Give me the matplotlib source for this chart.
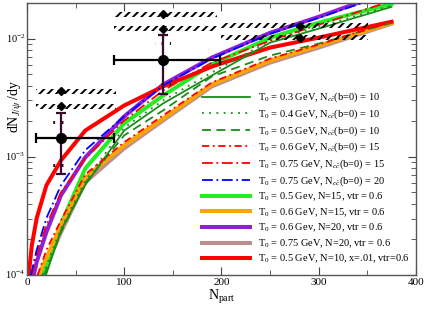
import numpy as np
import matplotlib
matplotlib.use("Agg")
import matplotlib.pyplot as plt
from matplotlib.patches import Rectangle
from matplotlib.ticker import MultipleLocator, LogLocator, NullFormatter

plt.rcParams['font.family'] = 'Liberation Serif'
plt.rcParams['mathtext.fontset'] = 'custom'
plt.rcParams['mathtext.rm'] = 'Liberation Serif'
plt.rcParams['mathtext.it'] = 'Liberation Serif:italic'
plt.rcParams['hatch.linewidth'] = 1.4

### Model curves (N_part, dN/dy)
x_t03 = [19.5, 35, 60, 100, 140, 190, 250, 300, 375]
y_t03 = [1e-4, 2.40e-4, 5.8e-4, 1.67e-3, 2.83e-3, 4.87e-3, 9.25e-3, 1.215e-2, 1.86e-2]

x_t04 = [16, 20, 35, 60, 100, 140, 190, 250, 300, 375]
y_t04 = [1e-4, 1.2e-4, 2.49e-4, 6.3e-4, 1.77e-3, 3.0e-3, 5.16e-3, 9.62e-3, 1.26e-2, 1.90e-2]

x_t05 = [17, 20, 35, 60, 100, 140, 190, 250, 300, 375]
y_t05 = [1e-4, 1.1e-4, 2.3e-4, 6.0e-4, 1.52e-3, 2.47e-3, 4.78e-3, 7.19e-3, 9.08e-3, 1.365e-2]

x_t06_15 = [11, 20, 35, 60, 100, 140, 190, 250, 300, 375]
y_t06_15 = [1e-4, 1.63e-4, 2.91e-4, 7.1e-4, 1.33e-3, 2.24e-3, 4.25e-3, 6.78e-3, 8.90e-3, 1.39e-2]

x_t075_15 = [5, 10, 20, 35, 60, 100, 140, 190, 250, 300, 375]
y_t075_15 = [1e-4, 1.48e-4, 2.64e-4, 5.01e-4, 9.7e-4, 2.03e-3, 3.64e-3, 6.27e-3, 9.62e-3, 1.31e-2, 2.09e-2]

x_t075_20 = [4, 10, 20, 35, 60, 100, 140, 190, 250, 300, 375]
y_t075_20 = [1e-4, 1.63e-4, 3.03e-4, 5.75e-4, 1.14e-3, 2.2e-3, 4.01e-3, 6.78e-3, 1.10e-2, 1.50e-2, 2.44e-2]

x_v05_15 = [17, 20, 35, 60, 100, 140, 190, 250, 300, 375]
y_v05_15 = [1e-4, 1.2e-4, 2.7e-4, 8.0e-4, 1.92e-3, 3.30e-3, 6.04e-3, 1.02e-2, 1.365e-2, 1.97e-2]

x_v06_15 = [12, 20, 35, 60, 100, 140, 190, 250, 300, 375]
y_v06_15 = [1e-4, 1.39e-4, 2.64e-4, 6.7e-4, 1.25e-3, 2.11e-3, 4.09e-3, 6.52e-3, 8.73e-3, 1.365e-2]

x_v06_20 = [7, 10, 20, 35, 60, 100, 140, 190, 250, 300, 375]
y_v06_20 = [1e-4, 1.29e-4, 2.31e-4, 4.73e-4, 9.9e-4, 2.2e-3, 4.09e-3, 6.91e-3, 1.12e-2, 1.53e-2, 2.54e-2]

x_v075_20 = [14, 20, 35, 60, 100, 140, 190, 250, 300, 375]
y_v075_20 = [1e-4, 1.2e-4, 2.31e-4, 6.1e-4, 1.18e-3, 2.03e-3, 3.94e-3, 6.27e-3, 8.40e-3, 1.34e-2]

x_v05_10 = [1.5, 5, 10, 20, 35, 60, 100, 140, 190, 250, 300, 375]
y_v05_10 = [9.5e-5, 1.79e-4, 3.03e-4, 5.75e-4, 9.34e-4, 1.67e-3, 2.72e-3, 3.94e-3, 5.80e-3, 8.40e-3, 1.02e-2, 1.39e-2]

### Data points
pt_x = [35, 140]
pt_y = [1.43e-3, 6.65e-3]
pt_xlo = [9.3, 89.5]
pt_xhi = [89.5, 198.5]
pt_ylo = [7.1e-4, 3.37e-3]
pt_yhi = [2.33e-3, 1.08e-2]
sys_lo = [8.5e-4, 4.09e-3]
sys_hi = [1.95e-3, 9.07e-3]

dia_x = [35, 35, 140, 140, 281, 281]
dia_y = [3.59e-3, 2.67e-3, 1.61e-2, 1.21e-2, 1.29e-2, 1.02e-2]
dia_xlo = [9.3, 9.3, 89.5, 89.5, 199.5, 199.5]
dia_xhi = [91.5, 91.5, 195, 195, 350.6, 350.6]

# y tick labels (decades)
ytick_vals = [1e-4, 1e-3, 1e-2]
ytick_text = [r'$10^{-4}$', r'$10^{-3}$', r'$10^{-2}$']

fig = plt.figure(figsize=(4.25, 3.09), dpi=100)
ax = fig.add_axes([0.0635, 0.110, 0.915, 0.880])

thin = 1.3
thick = 2.9
ax.plot(x_v05_15, y_v05_15, color='#22ee22', lw=thick, zorder=2,
        label=r'T$_0$ = 0.5 Gev, N=15, vtr = 0.6')
ax.plot(x_v06_15, y_v06_15, color='#ffa500', lw=thick, zorder=2,
        label=r'T$_0$ = 0.6 GeV, N=15, vtr = 0.6')
ax.plot(x_v06_20, y_v06_20, color='#9020d8', lw=thick, zorder=2,
        label=r'T$_0$ = 0.6 Gev, N=20, vtr = 0.6')
ax.plot(x_v075_20, y_v075_20, color='#bc8f8f', lw=thick, zorder=1.9,
        label=r'T$_0$ = 0.75 GeV, N=20, vtr = 0.6')
ax.plot(x_v05_10, y_v05_10, color='#ff0000', lw=thick, zorder=2.1,
        label=r'T$_0$ = 0.5 GeV, N=10, x=.01, vtr=0.6')

ax.plot(x_t03, y_t03, color='#1a8c1a', lw=thin, zorder=3,
        label=r'T$_0$ = 0.3 GeV, N$_{c\bar{c}}$(b=0) = 10')
ax.plot(x_t04, y_t04, color='#1a8c1a', lw=thin, ls=(0, (1, 3)), zorder=3,
        label=r'T$_0$ = 0.4 GeV, N$_{c\bar{c}}$(b=0) = 10')
ax.plot(x_t05, y_t05, color='#1a8c1a', lw=thin, ls=(0, (5, 3)), zorder=3,
        label=r'T$_0$ = 0.5 GeV, N$_{c\bar{c}}$(b=0) = 10')
ax.plot(x_t06_15, y_t06_15, color='#ff0000', lw=thin, ls=(0, (4, 2, 1, 2)), zorder=3,
        label=r'T$_0$ = 0.6 GeV, N$_{c\bar{c}}$(b=0) = 15')
ax.plot(x_t075_15, y_t075_15, color='#ff0000', lw=thin, ls=(0, (6, 2, 1, 2)), zorder=3,
        label=r'T$_0$ = 0.75 GeV, N$_{c\bar{c}}$(b=0) = 15')
ax.plot(x_t075_20, y_t075_20, color='#0000ff', lw=thin, ls=(0, (6, 2, 1, 2)), zorder=3,
        label=r'T$_0$ = 0.75 GeV, N$_{c\bar{c}}$(b=0) = 20')

# hatched bars for the diamonds
f = 10 ** (2.5 / 118.5)
for xl, xh, y in zip(dia_xlo, dia_xhi, dia_y):
    ax.add_patch(Rectangle((xl, y / f), xh - xl, y * f - y / f, facecolor='none',
                           edgecolor='black', lw=0, hatch='////', zorder=4))
ax.plot(dia_x, dia_y, 'D', color='black', ms=4.5, zorder=5)

# points with errors
yerr = [np.array(pt_y) - np.array(pt_ylo), np.array(pt_yhi) - np.array(pt_y)]
xerr = [np.array(pt_x) - np.array(pt_xlo), np.array(pt_xhi) - np.array(pt_x)]
ax.errorbar(pt_x, pt_y, xerr=xerr, fmt='none', ecolor='black', elinewidth=1.6,
            capsize=3.5, capthick=1.6, zorder=5)
ax.errorbar(pt_x, pt_y, yerr=yerr, fmt='none', ecolor='#3a0a2e', elinewidth=1.6,
            capsize=3.5, capthick=1.6, zorder=5)
ax.plot(pt_x, pt_y, 'o', color='black', ms=7, zorder=6)
g = 10 ** (1.5 / 118.5)
for x, lo, hi in zip(pt_x, sys_lo, sys_hi):
    for y in (lo, hi):
        ax.add_patch(Rectangle((x - 8, y / g), 16, y * g - y / g, facecolor='none',
                               edgecolor='#3a0a2e', lw=0, hatch='||', zorder=4))

ax.set_yscale('log')
ax.set_xlim(0, 400)
ax.set_ylim(1e-4, 0.02)
ax.xaxis.set_major_locator(MultipleLocator(100))
ax.xaxis.set_minor_locator(MultipleLocator(50))
ax.set_yticks(ytick_vals)
ax.yaxis.set_minor_locator(LogLocator(base=10, subs=np.arange(2, 10)))
ax.yaxis.set_minor_formatter(NullFormatter())
ax.tick_params(which='both', direction='in', top=True, right=True, labelsize=8,
               color='#444444', pad=2)
ax.tick_params(axis='y', labelleft=False)
ax.tick_params(which='major', length=6)
ax.tick_params(which='minor', length=3.5)
for s in ax.spines.values():
    s.set_color('#555555')
    s.set_linewidth(1.0)

# y tick labels placed on the axis transform
for v, t in zip(ytick_vals, ytick_text):
    ax.text(-0.004, v, t, transform=ax.get_yaxis_transform(), ha='right',
            va='center', fontsize=7.5, color='black', clip_on=False)

ax.set_xlabel(r'N$_{\rm part}$', fontsize=10, labelpad=1)
ax.set_ylabel(r'dN$_{J/\psi}$ /dy', fontsize=10, va='center')
ax.yaxis.set_label_coords(-0.028, 0.62)

h, l = ax.get_legend_handles_labels()
order = [5, 6, 7, 8, 9, 10, 0, 1, 2, 3, 4]
ax.legend([h[i] for i in order], [l[i] for i in order], loc='upper left',
          bbox_to_anchor=(202 / 425, 1 - 91 / 309), bbox_transform=fig.transFigure,
          frameon=False, fontsize=7.5, handlelength=4.6, handletextpad=0.8,
          labelspacing=0.3, borderpad=0, borderaxespad=0)

fig.savefig('out.png', dpi=100)
